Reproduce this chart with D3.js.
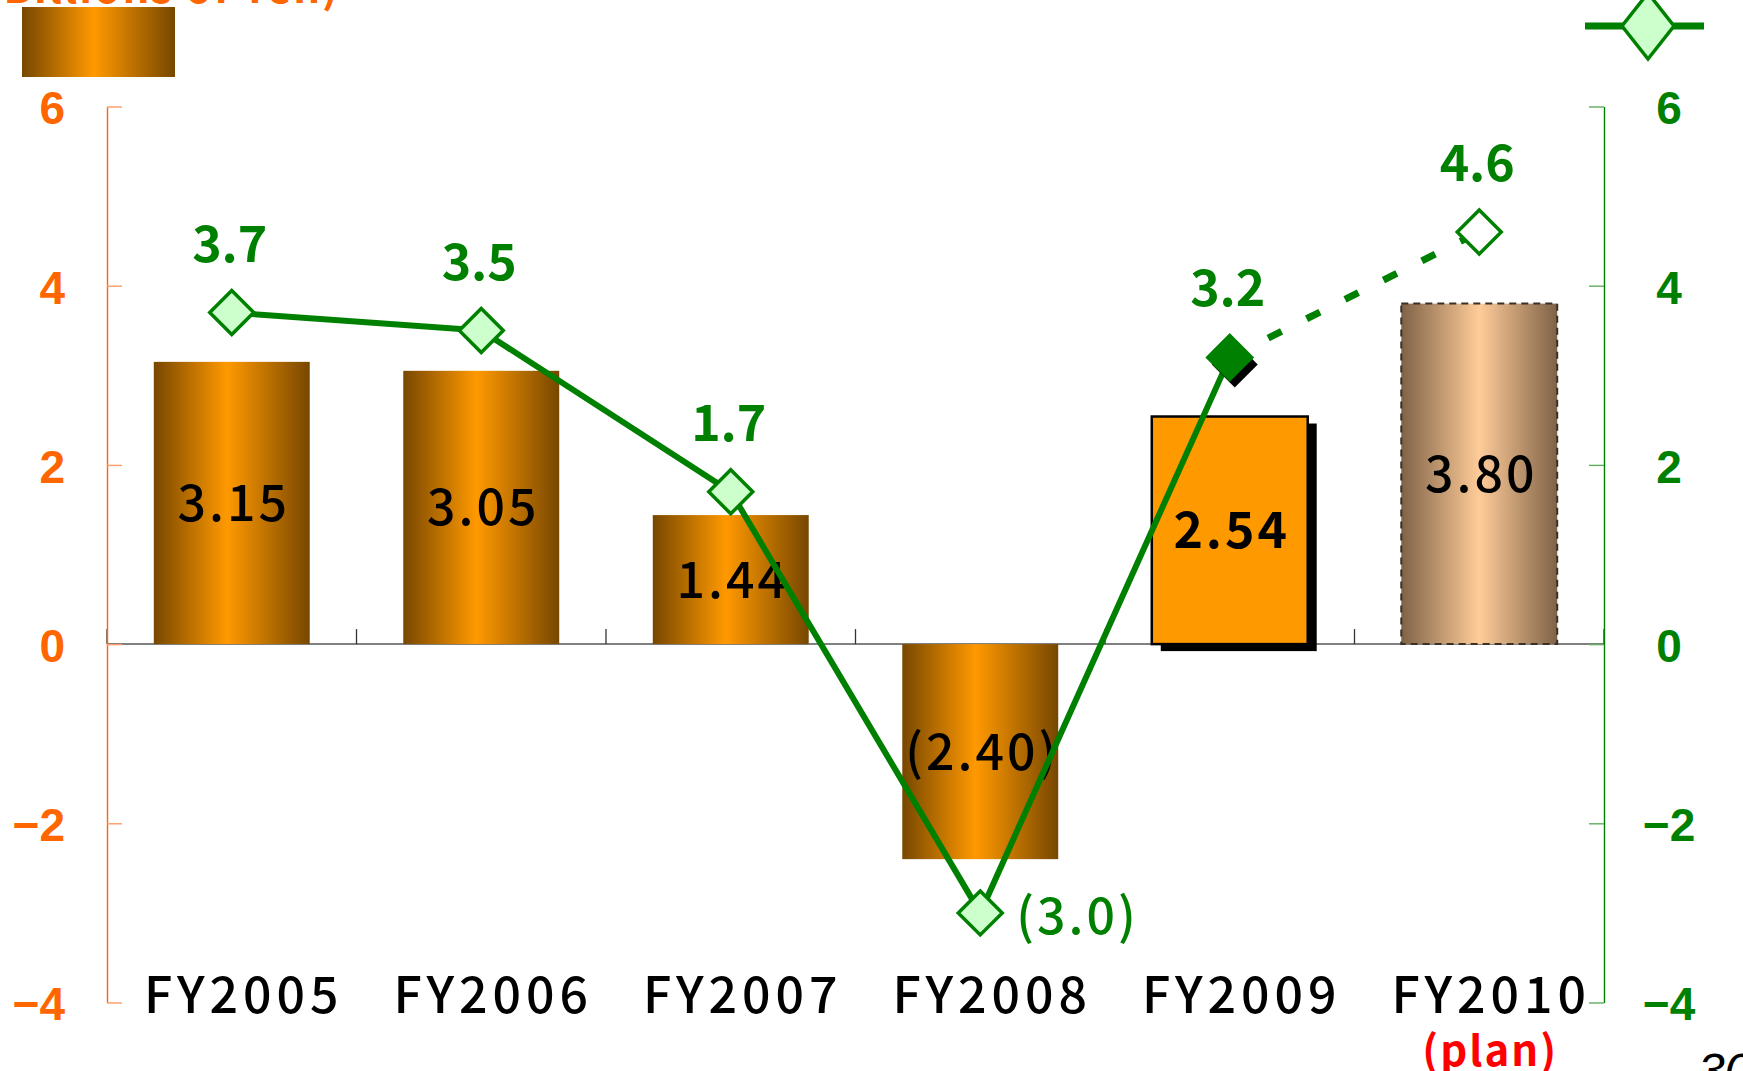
<!DOCTYPE html>
<html><head><meta charset="utf-8">
<script src="https://cdn.jsdelivr.net/npm/d3@7"></script>
<style>
html,body{margin:0;padding:0;background:#fff;overflow:hidden}
svg{display:block}
</style></head><body>
<script>
// ---- data ----
const categories = ["FY2005","FY2006","FY2007","FY2008","FY2009","FY2010"];
const barValues  = [3.15, 3.05, 1.44, -2.40, 2.54, 3.80];
const lineValues = [3.7, 3.5, 1.7, -3.0, 3.2, 4.6];
const yTickValues = [-4, -2, 0, 2, 4, 6];
const unitLabel = "(Billions of Yen)";
const planNote = "(plan)";
const pageNumber = "30";

// ---- layout ----
const W = 1743, H = 1071;
const JP = '"Noto Sans CJK JP","Noto Sans",sans-serif';
const AR = '"Liberation Sans",Arial,sans-serif';
const ORANGE = "#FF6600", GREEN = "#008000";

const svg = d3.select("body").append("svg").attr("width", W).attr("height", H);

const x = d3.scaleBand().domain(categories).range([107, 1604])
  .paddingInner(0.375).paddingOuter(0.1875);
const y = d3.scaleLinear().domain([-4, 6]).range([1002.5, 106.5]);
const bw = x.bandwidth();
const cx = c => x(c) + bw / 2;

const rows = categories.map((c, i) => ({c, i, bar: barValues[i], line: lineValues[i]}));
const lastIdx = rows.length - 1;       // plan year
const actualIdx = rows.length - 2;     // latest actual year

// gradients
const defs = svg.append("defs");
const g1 = defs.append("linearGradient").attr("id", "gOr").attr("x1", 0).attr("x2", 1).attr("y1", 0).attr("y2", 0);
[[0, "#774700"], [0.47, "#FF9900"], [1, "#774700"]].forEach(s => g1.append("stop").attr("offset", s[0]).attr("stop-color", s[1]));
const g2 = defs.append("linearGradient").attr("id", "gTan").attr("x1", 0).attr("x2", 1).attr("y1", 0).attr("y2", 0);
[[0, "#7F6247"], [0.5, "#FFCC99"], [1, "#7F6247"]].forEach(s => g2.append("stop").attr("offset", s[0]).attr("stop-color", s[1]));

// zero line + category ticks
svg.append("line").attr("x1", x.range()[0]).attr("x2", x.range()[1])
  .attr("y1", y(0)).attr("y2", y(0)).attr("stroke", "#808080").attr("stroke-width", 2);
svg.append("g").selectAll("line").data(d3.range(categories.length + 1)).join("line")
  .attr("x1", i => x.range()[0] + i * x.step()).attr("x2", i => x.range()[0] + i * x.step())
  .attr("y1", y(0) - 15).attr("y2", y(0)).attr("stroke", "#333").attr("stroke-width", 1.3);

// bars
const gb = svg.append("g");
rows.forEach(d => {
  const top = y(Math.max(0, d.bar)), h = Math.abs(y(d.bar) - y(0));
  if (d.i === actualIdx) {
    gb.append("rect").attr("x", x(d.c) + 9).attr("y", top + 7).attr("width", bw).attr("height", h).attr("fill", "#000");
    gb.append("rect").attr("x", x(d.c)).attr("y", top).attr("width", bw).attr("height", h)
      .attr("fill", "#FF9900").attr("stroke", "#000").attr("stroke-width", 2.5);
  } else if (d.i === lastIdx) {
    gb.append("rect").attr("x", x(d.c)).attr("y", top).attr("width", bw).attr("height", h)
      .attr("fill", "url(#gTan)").attr("stroke", "#3a3026").attr("stroke-width", 2).attr("stroke-dasharray", "7,5");
  } else {
    gb.append("rect").attr("x", x(d.c)).attr("y", top).attr("width", bw).attr("height", h)
      .attr("fill", "url(#gOr)");
  }
});

// bar labels
const fmtBar = v => v < 0 ? "(" + Math.abs(v).toFixed(2) + ")" : v.toFixed(2);
svg.append("g").selectAll("text").data(rows).join("text")
  .attr("x", d => cx(d.c) + 2).attr("y", d => (y(d.bar) + y(0)) / 2 + 18)
  .attr("text-anchor", "middle").attr("font-family", JP).attr("font-size", 50)
  .attr("font-weight", d => d.i === actualIdx ? 600 : 500)
  .attr("letter-spacing", 3).attr("fill", "#000").text(d => fmtBar(d.bar));

// line
const line = d3.line().x(d => cx(d.c)).y(d => y(d.line));
svg.append("path").datum(rows.slice(0, actualIdx + 1)).attr("d", line)
  .attr("fill", "none").attr("stroke", GREEN).attr("stroke-width", 6).attr("stroke-linejoin", "round");
svg.append("path").datum(rows.slice(actualIdx)).attr("d", line)
  .attr("fill", "none").attr("stroke", GREEN).attr("stroke-width", 7).attr("stroke-dasharray", "15,28");

// markers
const diamond = (px, py, rx, ry) => `M${px},${py - ry}L${px + rx},${py}L${px},${py + ry}L${px - rx},${py}Z`;
const gm = svg.append("g");
rows.forEach(d => {
  const px = cx(d.c), py = y(d.line);
  if (d.i === actualIdx) {
    gm.append("path").attr("d", diamond(px + 5, py + 7, 23, 23)).attr("fill", "#000");
    gm.append("path").attr("d", diamond(px, py, 23, 23)).attr("fill", GREEN).attr("stroke", GREEN).attr("stroke-width", 2);
  } else if (d.i === lastIdx) {
    gm.append("path").attr("d", diamond(px, py, 22, 22)).attr("fill", "#fff").attr("stroke", GREEN).attr("stroke-width", 3.5);
  } else {
    gm.append("path").attr("d", diamond(px, py, 22, 22)).attr("fill", "#CCFFCC").attr("stroke", GREEN).attr("stroke-width", 3.5);
  }
});

// line labels
const gl = svg.append("g").attr("font-family", JP).attr("fill", GREEN);
rows.forEach(d => {
  const px = cx(d.c), py = y(d.line);
  if (d.line < 0) {
    gl.append("text").attr("x", px + 36).attr("y", py + 21).attr("font-size", 50).attr("font-weight", 500)
      .attr("letter-spacing", 3).text("(" + Math.abs(d.line).toFixed(1) + ")");
  } else {
    gl.append("text").attr("x", px - 2).attr("y", py - 51).attr("text-anchor", "middle")
      .attr("font-size", 50).attr("font-weight", 700).text(d.line.toFixed(1));
  }
});

// y axes
const fmtTick = v => v < 0 ? "\u2212" + Math.abs(v) : String(v);
const axL = svg.append("g").attr("transform", `translate(${x.range()[0]},0)`)
  .call(d3.axisLeft(y).tickValues(yTickValues).tickSize(-15).tickSizeOuter(0).tickPadding(42).tickFormat(fmtTick));
axL.select(".domain").attr("stroke", ORANGE).attr("stroke-width", 1.4);
axL.selectAll(".tick line").attr("stroke", "#FF9a66").attr("stroke-width", 1.4);
axL.selectAll(".tick text").attr("fill", ORANGE).attr("font-family", AR).attr("font-weight", 700)
  .attr("font-size", 46).attr("dy", "0.38em");

const axR = svg.append("g").attr("transform", `translate(${x.range()[1]},0)`)
  .call(d3.axisRight(y).tickValues(yTickValues).tickSize(-15).tickSizeOuter(0).tickPadding(65).tickFormat(fmtTick));
axR.select(".domain").attr("stroke", GREEN).attr("stroke-width", 1.4);
axR.selectAll(".tick line").attr("stroke", "#5fae5f").attr("stroke-width", 1.4);
axR.selectAll(".tick text").attr("fill", GREEN).attr("font-family", AR).attr("font-weight", 700)
  .attr("font-size", 46).attr("dy", "0.38em").attr("text-anchor", "middle");

// category labels
svg.append("g").selectAll("text").data(categories).join("text")
  .attr("x", c => cx(c) + 12).attr("y", 1013).attr("text-anchor", "middle")
  .attr("font-family", JP).attr("font-size", 50).attr("font-weight", 500).attr("letter-spacing", 5)
  .attr("fill", "#000").text(c => c);
svg.append("text").attr("x", cx(categories[lastIdx]) + 11).attr("y", 1066).attr("text-anchor", "middle")
  .attr("font-family", JP).attr("font-size", 42).attr("font-weight", 700).attr("letter-spacing", 2)
  .attr("fill", "#FF0000").text(planNote);

// legend
svg.append("rect").attr("x", 22).attr("y", 7).attr("width", 153).attr("height", 70).attr("fill", "url(#gOr)");
svg.append("line").attr("x1", 1585).attr("x2", 1704).attr("y1", 26).attr("y2", 26).attr("stroke", GREEN).attr("stroke-width", 7);
svg.append("path").attr("d", diamond(1648, 26, 26, 33)).attr("fill", "#CCFFCC").attr("stroke", GREEN).attr("stroke-width", 3.5);

// unit label (cut at top) and page number
svg.append("text").attr("x", 340).attr("y", 3).attr("text-anchor", "end")
  .attr("font-family", JP).attr("font-size", 42).attr("font-weight", 700).attr("letter-spacing", 2)
  .attr("fill", ORANGE).text(unitLabel);
svg.append("text").attr("x", 1698).attr("y", 1087).attr("font-family", AR).attr("font-size", 48)
  .attr("font-style", "italic").attr("fill", "#000").text(pageNumber);
</script>
</body></html>
